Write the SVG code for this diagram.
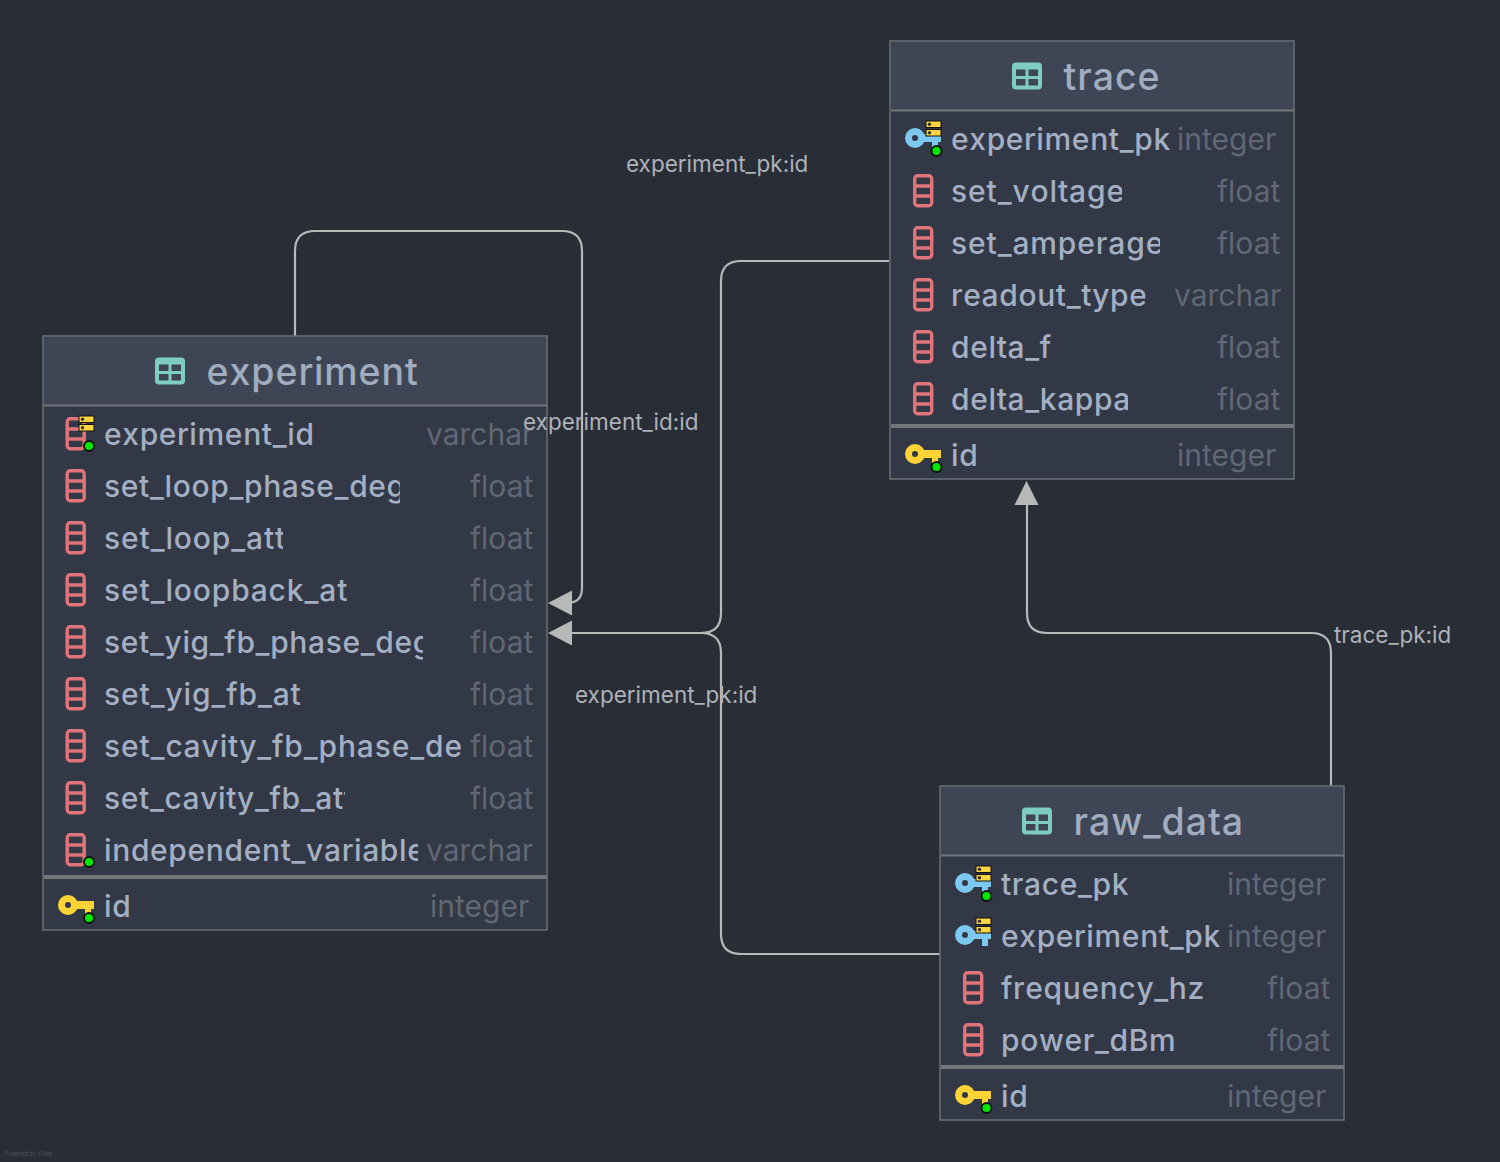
<svg xmlns="http://www.w3.org/2000/svg" width="1500" height="1162" viewBox="0 0 1500 1162">
<style>
text{font-family:Inter,"Noto Sans",sans-serif}
.box{fill:#323845;stroke:#6b6f76;stroke-width:1.500}
.head{fill:#3e4655}
.sep{stroke:#72757a;stroke-width:2}
.sep2{stroke:#72757a;stroke-width:4}
.title{font-size:37.5px;fill:#a0acbf;font-weight:500;letter-spacing:.95px;font-kerning:none}
.n{font-size:30px;fill:#a3afc3;font-weight:500;letter-spacing:.65px;font-kerning:none}
.w{letter-spacing:.88px}
.t{font-size:30px;fill:#606775}
.l{font-size:22.5px;fill:#aeb2b9}
.e{fill:none;stroke:#b8b8b8;stroke-width:2.200}
.a{fill:#b8b8b8}
</style>
<defs>
<g id="tbl"><rect x="0" y="0" width="30" height="27" rx="4" fill="#7fcdc1"/><rect x="4" y="7" width="9.500" height="6.500" fill="#3e4655"/><rect x="16.500" y="7" width="9.500" height="6.500" fill="#3e4655"/><rect x="4" y="16.500" width="9.500" height="6.500" fill="#3e4655"/><rect x="16.500" y="16.500" width="9.500" height="6.500" fill="#3e4655"/></g>
<g id="col"><rect x="1.700" y="1.700" width="17" height="30" rx="3" fill="none" stroke="#e0747a" stroke-width="3.400"/><path d="M1.700 12H18.700M1.700 22H18.700" stroke="#e0747a" stroke-width="3.400"/></g>
<g id="dot"><circle cx="0" cy="0" r="5" fill="#00e600" stroke="#111" stroke-width="1.800"/></g>
<g id="srv"><rect x="0" y="0" width="15" height="6.500" fill="#fcd53f" stroke="#111" stroke-width="1"/><rect x="0" y="8.500" width="15" height="6.500" fill="#fcd53f" stroke="#111" stroke-width="1"/><circle cx="3.500" cy="3.200" r="1.700" fill="#333"/><circle cx="3.500" cy="11.700" r="1.700" fill="#333"/></g>
<g id="ky"><circle cx="10" cy="10" r="6.500" fill="none" stroke="#fdd335" stroke-width="7"/><path d="M18 6H36V14H33V21H27V14H18Z" fill="#fdd335"/></g>
<g id="kb"><circle cx="10" cy="10" r="6.500" fill="none" stroke="#7cc8f0" stroke-width="7"/><path d="M18 6H36V14H33V21H27V14H18Z" fill="#7cc8f0"/></g>
<clipPath id="c1"><rect x="100" y="465" width="300" height="44"/></clipPath>
<clipPath id="c2"><rect x="100" y="517" width="183" height="44"/></clipPath>
<clipPath id="c4"><rect x="100" y="621" width="323" height="44"/></clipPath>
<clipPath id="c7"><rect x="100" y="777" width="245" height="44"/></clipPath>
<clipPath id="c8"><rect x="100" y="829" width="318" height="44"/></clipPath>
<clipPath id="c9"><rect x="945" y="170" width="177" height="44"/></clipPath>
<clipPath id="c10"><rect x="945" y="222" width="215" height="44"/></clipPath>
<clipPath id="c11"><rect x="945" y="274" width="200.500" height="44"/></clipPath>
<clipPath id="c12"><rect x="945" y="378" width="183" height="44"/></clipPath>
</defs>
<rect width="1500" height="1162" fill="#292d36"/>
<g id="connectors">
<path class="e" d="M295 336V251Q295 231 315 231H562Q582 231 582 251V588Q582 603 567 603H570"/>
<path class="e" d="M889 261H741Q721 261 721 281V613Q721 633 701 633H570"/>
<path class="e" d="M940 954H741Q721 954 721 934V653Q721 633 701 633"/>
<path class="e" d="M1331 786V653Q1331 633 1311 633H1047Q1027 633 1027 613V503"/>
<path class="a" d="M548 603L572 590.500V615.500Z"/>
<path class="a" d="M548 633L572 620.500V645.500Z"/>
<path class="a" d="M1026.500 481L1014.500 505H1038.500Z"/>
</g>
<g id="experiment">
<rect class="box" x="43" y="336" width="504" height="594"/>
<rect class="head" x="44" y="337" width="502" height="68"/>
<line class="sep" x1="44" y1="405.500" x2="547" y2="405.500"/>
<line class="sep2" x1="44" y1="877" x2="547" y2="877"/>
<use href="#tbl" x="155" y="357.500"/>
<text class="title" x="206.500" y="385">experiment</text>
<use href="#col" x="65.500" y="417"/><use href="#srv" x="79" y="416"/><use href="#dot" x="89" y="446"/>
<text class="n" x="104" y="445">experiment_id</text><text class="t" x="426" y="445">varchar</text>
<use href="#col" x="65.500" y="469"/><text class="n" x="104" y="497" clip-path="url(#c1)">set_loop_phase_deg</text><text class="t" x="470" y="497">float</text>
<use href="#col" x="65.500" y="521"/><text class="n w" x="104" y="549" clip-path="url(#c2)">set_loop_att</text><text class="t" x="470" y="549">float</text>
<use href="#col" x="65.500" y="573"/><text class="n w" x="104" y="601">set_loopback_at</text><text class="t" x="470" y="601">float</text>
<use href="#col" x="65.500" y="625"/><text class="n" x="104" y="653" clip-path="url(#c4)">set_yig_fb_phase_deg</text><text class="t" x="470" y="653">float</text>
<use href="#col" x="65.500" y="677"/><text class="n w" x="104" y="705">set_yig_fb_at</text><text class="t" x="470" y="705">float</text>
<use href="#col" x="65.500" y="729"/><text class="n w" x="104" y="757">set_cavity_fb_phase_de</text><text class="t" x="470" y="757">float</text>
<use href="#col" x="65.500" y="781"/><text class="n" x="104" y="809" clip-path="url(#c7)">set_cavity_fb_att</text><text class="t" x="470" y="809">float</text>
<use href="#col" x="65.500" y="833"/><use href="#dot" x="89" y="862"/><text class="n" x="104" y="861" clip-path="url(#c8)">independent_variable</text><text class="t" x="426" y="861">varchar</text>
<use href="#ky" x="58" y="895"/><use href="#dot" x="89" y="918"/><text class="n" x="104" y="917">id</text><text class="t" x="430" y="917">integer</text>
</g>
<g id="trace">
<rect class="box" x="890" y="41" width="404" height="438"/>
<rect class="head" x="891" y="42" width="402" height="68"/>
<line class="sep" x1="891" y1="110.500" x2="1294" y2="110.500"/>
<line class="sep2" x1="891" y1="426" x2="1294" y2="426"/>
<use href="#tbl" x="1012" y="62.500"/>
<text class="title" x="1063.500" y="90">trace</text>
<use href="#kb" x="905" y="128"/><use href="#srv" x="926" y="121"/><use href="#dot" x="936.500" y="151"/>
<text class="n" x="951" y="150">experiment_pk</text><text class="t" x="1177" y="150">integer</text>
<use href="#col" x="913" y="174"/><text class="n w" x="951" y="202" clip-path="url(#c9)">set_voltage</text><text class="t" x="1217" y="202">float</text>
<use href="#col" x="913" y="226"/><text class="n w" x="951" y="254" clip-path="url(#c10)">set_amperage</text><text class="t" x="1217" y="254">float</text>
<use href="#col" x="913" y="278"/><text class="n" x="951" y="306" clip-path="url(#c11)">readout_type</text><text class="t" x="1174" y="306">varchar</text>
<use href="#col" x="913" y="330"/><text class="n" x="951" y="358">delta_f</text><text class="t" x="1217" y="358">float</text>
<use href="#col" x="913" y="382"/><text class="n" x="951" y="410" clip-path="url(#c12)">delta_kappa</text><text class="t" x="1217" y="410">float</text>
<use href="#ky" x="905" y="444"/><use href="#dot" x="936.500" y="467"/><text class="n" x="951" y="466">id</text><text class="t" x="1177" y="466">integer</text>
</g>
<g id="raw_data">
<rect class="box" x="940" y="786" width="404" height="334"/>
<rect class="head" x="941" y="787" width="402" height="68"/>
<line class="sep" x1="941" y1="855.500" x2="1344" y2="855.500"/>
<line class="sep2" x1="941" y1="1067" x2="1344" y2="1067"/>
<use href="#tbl" x="1022" y="807.500"/>
<text class="title" x="1073.500" y="835">raw_data</text>
<use href="#kb" x="955" y="873"/><use href="#srv" x="976" y="866"/><use href="#dot" x="986.500" y="896"/>
<text class="n" x="1001" y="895">trace_pk</text><text class="t" x="1227" y="895">integer</text>
<use href="#kb" x="955" y="925"/><use href="#srv" x="976" y="918"/>
<text class="n" x="1001" y="947">experiment_pk</text><text class="t" x="1227" y="947">integer</text>
<use href="#col" x="963" y="971"/><text class="n" x="1001" y="999">frequency_hz</text><text class="t" x="1267" y="999">float</text>
<use href="#col" x="963" y="1023"/><text class="n" x="1001" y="1051">power_dBm</text><text class="t" x="1267" y="1051">float</text>
<use href="#ky" x="955" y="1085"/><use href="#dot" x="986.500" y="1108"/><text class="n" x="1001" y="1107">id</text><text class="t" x="1227" y="1107">integer</text>
</g>
<g id="labels">
<text class="l" x="626" y="172">experiment_pk:id</text>
<text class="l" x="523" y="430">experiment_id:id</text>
<text class="l" x="575" y="703">experiment_pk:id</text>
<text class="l" x="1334" y="643">trace_pk:id</text>
<text x="5" y="1156" font-size="5.500" fill="#50545c">Powered by yFiles</text>
</g>
</svg>
